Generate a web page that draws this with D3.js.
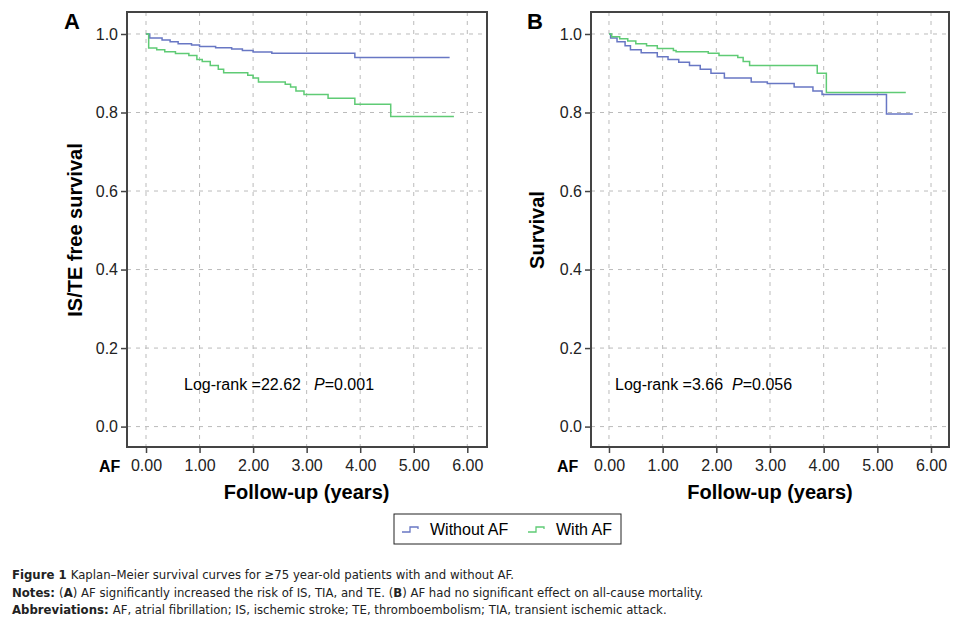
<!DOCTYPE html>
<html>
<head>
<meta charset="utf-8">
<script src="https://cdn.jsdelivr.net/npm/d3@7"></script>
<style>
body { margin: 0; background: #fff; }
svg { font-family: "Liberation Sans", Arial, sans-serif; }
</style>
</head>
<body>
<svg id="chart" width="965" height="620"></svg>
<script>
// step points [years, survival], last point marks end of follow-up
const aWithout = [[0,1],[0.07,0.99],[0.3,0.985],[0.45,0.98],[0.6,0.975],[0.85,0.972],[1.0,0.968],[1.3,0.965],[1.6,0.962],[1.8,0.958],[2.0,0.954],[2.35,0.951],[3.9,0.94],[5.67,0.94]]
const aWith = [[0,1],[0.05,0.964],[0.2,0.96],[0.35,0.955],[0.55,0.95],[0.8,0.945],[0.95,0.935],[1.05,0.93],[1.2,0.92],[1.35,0.91],[1.45,0.901],[1.9,0.895],[2.0,0.888],[2.1,0.878],[2.6,0.872],[2.7,0.865],[2.8,0.855],[2.95,0.846],[3.4,0.836],[3.9,0.821],[4.57,0.79],[5.75,0.79]]
const bWithout = [[0,1],[0.03,0.99],[0.15,0.98],[0.3,0.97],[0.4,0.96],[0.6,0.952],[0.9,0.942],[1.1,0.935],[1.3,0.928],[1.5,0.92],[1.7,0.91],[1.9,0.9],[2.15,0.888],[2.65,0.878],[2.95,0.874],[3.45,0.865],[3.8,0.855],[3.97,0.846],[5.17,0.796],[5.66,0.796]]
const bWith = [[0,1],[0.05,0.993],[0.2,0.988],[0.35,0.982],[0.5,0.975],[0.7,0.97],[0.9,0.963],[1.2,0.958],[1.25,0.955],[1.85,0.951],[2.05,0.945],[2.4,0.94],[2.5,0.93],[2.62,0.92],[3.88,0.9],[4.05,0.851],[5.53,0.851]]

const xTicks = [0,1,2,3,4,5,6]
const yTicks = [0,0.2,0.4,0.6,0.8,1.0]
const blue = "#6877c4"
const green = "#5fcb75"

const svg = d3.select("#chart")

function panel(opt) {
	let x = d3.scaleLinear().domain(opt.xdom).range([opt.left, opt.right])
	let y = d3.scaleLinear().domain([-0.052, 1.056]).range([447, 12])
	let g = svg.append("g")

	// grid
	for (let i=0;i<xTicks.length;i++) {
		g.append("line")
			.attr("x1",x(xTicks[i])).attr("x2",x(xTicks[i]))
			.attr("y1",12).attr("y2",447)
			.attr("stroke","#bbb").attr("stroke-dasharray","4,5")
	}
	for (let i=0;i<yTicks.length;i++) {
		g.append("line")
			.attr("x1",opt.left).attr("x2",opt.right)
			.attr("y1",y(yTicks[i])).attr("y2",y(yTicks[i]))
			.attr("stroke","#bbb").attr("stroke-dasharray","4,5")
	}

	// axes
	g.append("g").attr("transform","translate(" + opt.left + ",0)")
		.call(d3.axisLeft(y).tickValues(yTicks).tickFormat(d3.format(".1f")).tickSize(6).tickPadding(3))
		.call(a => a.select(".domain").remove())
	g.append("g").attr("transform","translate(0,447)")
		.call(d3.axisBottom(x).tickValues(xTicks).tickFormat(d3.format(".2f")).tickSize(6).tickPadding(7))
		.call(a => a.select(".domain").remove())
	g.selectAll(".tick line").attr("stroke","#444").attr("stroke-width",1.5)
	g.selectAll(".tick text").attr("fill","#222").style("font-size","16px")
		.style("font-family","Liberation Sans, Arial, sans-serif")

	// box
	g.append("rect")
		.attr("x",opt.left).attr("y",12)
		.attr("width",opt.right-opt.left).attr("height",435)
		.attr("fill","none").attr("stroke","#444").attr("stroke-width",2)

	// curves
	let line = d3.line().x(d => x(d[0])).y(d => y(d[1])).curve(d3.curveStepAfter)
	g.append("path").attr("d",line(opt.s1)).attr("fill","none").attr("stroke",blue).attr("stroke-width",1.5)
	g.append("path").attr("d",line(opt.s2)).attr("fill","none").attr("stroke",green).attr("stroke-width",1.5)

	// texts
	g.append("text").attr("x",opt.letterX).attr("y",29).text(opt.letter)
		.style("font-size","22px").style("font-weight","bold")
	g.append("text").attr("x",opt.afX).attr("y",472).text("AF")
		.style("font-size","16px").style("font-weight","bold")
	g.append("text").attr("x",(x(0)+x(6))/2).attr("y",499).attr("text-anchor","middle")
		.text("Follow-up (years)").style("font-size","20px").style("font-weight","bold")
	g.append("text").attr("transform","translate(" + opt.ytX + ",230) rotate(-90)")
		.attr("text-anchor","middle").text(opt.ytitle)
		.style("font-size","20px").style("font-weight","bold")
	let t = g.append("text").attr("x",opt.lrX).attr("y",390).style("font-size","16px")
		.attr("xml:space","preserve")
	t.append("tspan").text(opt.logrank)
	t.append("tspan").attr("dx",opt.gap).attr("font-style","italic").text("P")
	t.append("tspan").text(opt.pval)
}

panel({left:127, right:487, xdom:[-0.355,6.368], s1:aWithout, s2:aWith, letter:"A", letterX:64,
	afX:99, ytX:82, ytitle:"IS/TE free survival", lrX:184, logrank:"Log-rank =22.62", gap:13, pval:"=0.001"})
panel({left:591, right:949, xdom:[-0.335,6.335], s1:bWithout, s2:bWith, letter:"B", letterX:527,
	afX:557, ytX:544, ytitle:"Survival", lrX:615, logrank:"Log-rank =3.66", gap:9, pval:"=0.056"})

// legend
const leg = svg.append("g")
leg.append("rect").attr("x",394).attr("y",514).attr("width",227).attr("height",30)
	.attr("fill","none").attr("stroke","#222").attr("stroke-width",1)
const legItems = [{name:"Without AF", color:blue, x:402},{name:"With AF", color:green, x:528}]
legItems.forEach(function(d){
	leg.append("path").attr("d","M" + d.x + ",532 h8 v-5 h8 v2")
		.attr("fill","none").attr("stroke",d.color).attr("stroke-width",1.3)
	leg.append("text").attr("x",d.x+28).attr("y",535).text(d.name).style("font-size","16px")
})

// caption
const cap = [
	[["Figure 1 ", true],["Kaplan\u2013Meier survival curves for \u226575 year-old patients with and without AF.", false]],
	[["Notes: ", true],["(", false],["A", true],[") AF significantly increased the risk of IS, TIA, and TE. (", false],["B", true],[") AF had no significant effect on all-cause mortality.", false]],
	[["Abbreviations: ", true],["AF, atrial fibrillation; IS, ischemic stroke; TE, thromboembolism; TIA, transient ischemic attack.", false]]
]
cap.forEach(function(row, i){
	let t = svg.append("text").attr("x",12).attr("y",579 + i*17.5)
		.style("font-family","Liberation Sans Narrow, DejaVu Sans Condensed, sans-serif")
		.style("font-size","13px").attr("fill","#222")
	row.forEach(function(p){
		t.append("tspan").text(p[0]).attr("font-weight", p[1] ? "bold" : "normal")
	})
})
</script>
</body>
</html>
